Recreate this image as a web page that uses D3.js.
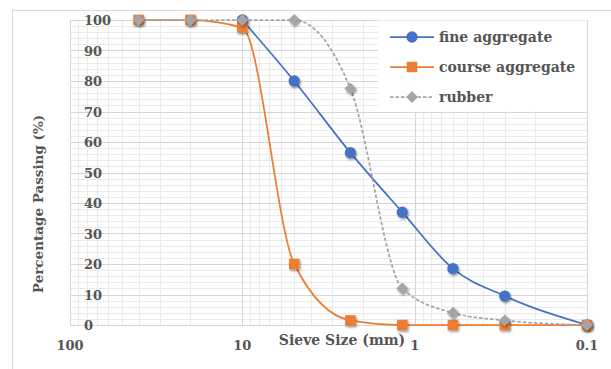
<!DOCTYPE html>
<html>
<head>
<meta charset="utf-8">
<script src="https://cdn.jsdelivr.net/npm/d3@7"></script>
<style>
  body { margin: 0; background: #fff; }
  text { font-family: "DejaVu Serif", serif; font-weight: bold; fill: #555555; }
</style>
</head>
<body>
<div id="chart"></div>
<script>
// sieve sizes in mm and percentage passing for each material
var sieveSizes = [40, 20, 10, 5, 2.36, 1.18, 0.6, 0.3, 0.1];
var fineAggregate = [null, null, 100, 80, 56.5, 37, 18.5, 9.5, 0];
var courseAggregate = [100, 100, 97.5, 20, 1.5, 0, 0, 0, 0];
var rubber = [100, 100, 100, 100, 77.5, 12, 4, 1.5, 0];
var xTickLabels = [100, 10, 1, 0.1];
var yTickLabels = [0, 10, 20, 30, 40, 50, 60, 70, 80, 90, 100];
var seriesNames = ['fine aggregate', 'course aggregate', 'rubber'];

function createChart() {
    var svg = d3.select('#chart')
        .append('svg')
        .attr('width', 611)
        .attr('height', 369);

    var defs = svg.append('defs');
    defs.append('filter')
        .attr('id', 'shadow')
        .attr('x', '-50%').attr('y', '-50%')
        .attr('width', '200%').attr('height', '200%')
        .append('feDropShadow')
        .attr('dx', 1).attr('dy', 1.5)
        .attr('stdDeviation', 1)
        .attr('flood-color', '#000')
        .attr('flood-opacity', 0.45);

    // outer chart frame
    svg.append('rect')
        .attr('x', 12.5).attr('y', 10.5)
        .attr('width', 640).attr('height', 400)
        .style('fill', 'none')
        .style('stroke', '#d9d9d9');

    var x = d3.scaleLog().domain([100, 0.1]).range([70, 587]);
    var y = d3.scaleLinear().domain([0, 100]).range([325, 20]);

    var grid = svg.append('g');
    // minor grid
    grid.selectAll('line.vminor')
        .data(x.ticks().filter(d => xTickLabels.indexOf(d) < 0))
        .enter().append('line')
        .attr('x1', d => Math.round(x(d)) + 0.5).attr('x2', d => Math.round(x(d)) + 0.5)
        .attr('y1', y(0)).attr('y2', y(100))
        .style('stroke', '#eaeaea');
    grid.selectAll('line.hminor')
        .data(d3.range(0, 101, 2).filter(d => d % 10 !== 0))
        .enter().append('line')
        .attr('y1', d => Math.round(y(d)) + 0.5).attr('y2', d => Math.round(y(d)) + 0.5)
        .attr('x1', x(100)).attr('x2', x(0.1))
        .style('stroke', '#eaeaea');
    // major grid
    grid.selectAll('line.vmajor')
        .data(xTickLabels)
        .enter().append('line')
        .attr('x1', d => Math.round(x(d)) + 0.5).attr('x2', d => Math.round(x(d)) + 0.5)
        .attr('y1', y(0)).attr('y2', y(100))
        .style('stroke', '#d6d6d6');
    grid.selectAll('line.hmajor')
        .data(yTickLabels)
        .enter().append('line')
        .attr('y1', d => Math.round(y(d)) + 0.5).attr('y2', d => Math.round(y(d)) + 0.5)
        .attr('x1', x(100)).attr('x2', x(0.1))
        .style('stroke', '#d6d6d6');

    // tick labels
    svg.append('g').selectAll('text')
        .data(yTickLabels)
        .enter().append('text')
        .attr('x', 84)
        .attr('y', d => y(d) + 5)
        .style('font-size', '13px')
        .text(d => d);
    svg.append('g').selectAll('text')
        .data(xTickLabels)
        .enter().append('text')
        .attr('x', d => x(d))
        .attr('y', 350)
        .style('font-size', '13px')
        .style('text-anchor', 'middle')
        .text(d => d);

    // axis titles
    svg.append('text')
        .attr('x', 342).attr('y', 345)
        .style('font-size', '14px')
        .style('text-anchor', 'middle')
        .text('Sieve Size (mm)');
    svg.append('text')
        .attr('transform', 'translate(43,204) rotate(-90)')
        .style('font-size', '13.5px')
        .style('text-anchor', 'middle')
        .text('Percentage Passing (%)');

    var series = [
        { name: seriesNames[0], values: fineAggregate, color: '#4472C4', dash: null, marker: 'circle' },
        { name: seriesNames[1], values: courseAggregate, color: '#ED7D31', dash: null, marker: 'square' },
        { name: seriesNames[2], values: rubber, color: '#A5A5A5', dash: '3.5,2', marker: 'diamond' }
    ];

    var symbolOf = {
        circle: d3.symbol().type(d3.symbolCircle).size(100),
        square: d3.symbol().type(d3.symbolSquare).size(110),
        diamond: d3.symbol().type(d3.symbolDiamond2).size(90)
    };

    var line = d3.line()
        .defined(d => d.v !== null)
        .x(d => x(d.s))
        .y(d => y(d.v))
        .curve(d3.curveMonotoneX);

    series.forEach(function(ser) {
        var pts = sieveSizes.map((s, i) => ({ s: s, v: ser.values[i] })).filter(d => d.v !== null);
        var g = svg.append('g');
        g.append('path')
            .datum(pts)
            .attr('d', line)
            .style('fill', 'none')
            .style('stroke', ser.color)
            .style('stroke-width', 1.75)
            .style('stroke-dasharray', ser.dash);
        g.selectAll('path.m')
            .data(pts)
            .enter().append('path')
            .attr('d', symbolOf[ser.marker])
            .attr('transform', d => 'translate(' + x(d.s) + ',' + y(d.v) + ')')
            .style('fill', ser.color)
            .attr('filter', 'url(#shadow)');
    });

    // legend
    var legend = svg.append('g');
    legend.append('rect')
        .attr('x', 378).attr('y', 20.5)
        .attr('width', 209).attr('height', 91)
        .style('fill', '#fff');
    var rows = legend.selectAll('g')
        .data(series)
        .enter().append('g')
        .attr('transform', (d, i) => 'translate(0,' + [37, 67, 97][i] + ')');
    rows.append('line')
        .attr('x1', 390).attr('x2', 434)
        .style('stroke', d => d.color)
        .style('stroke-width', 1.75)
        .style('stroke-dasharray', d => d.dash);
    rows.append('path')
        .attr('d', d => symbolOf[d.marker]())
        .attr('transform', 'translate(412,0)')
        .style('fill', d => d.color);
    rows.append('text')
        .attr('x', 439).attr('y', 5)
        .style('font-size', '14px')
        .text(d => d.name);
}

createChart();
</script>
</body>
</html>
